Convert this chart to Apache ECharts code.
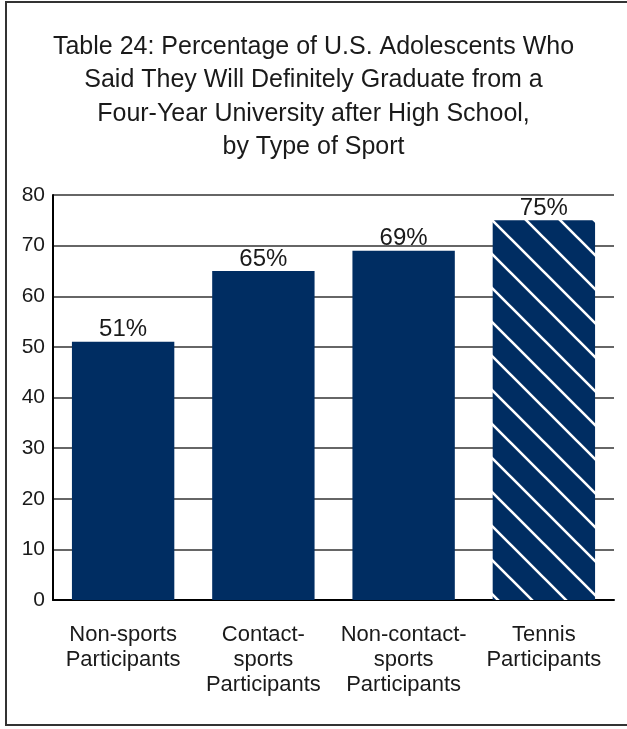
<!DOCTYPE html>
<html>
<head>
<meta charset="utf-8">
<script src="https://cdn.jsdelivr.net/npm/echarts@6/dist/echarts.min.js"></script>
<style>
html,body{margin:0;padding:0;background:#fff;}
#frame{position:absolute;left:5px;top:1px;width:640px;height:725px;border:2px solid #333;box-sizing:border-box;}
#chart{position:absolute;left:0;top:0;width:627px;height:729px;}
</style>
</head>
<body>
<div id="frame"></div>
<div id="chart"></div>
<script>
const titleText = "Table 24: Percentage of U.S. Adolescents Who\nSaid They Will Definitely Graduate from a\nFour-Year University after High School,\nby Type of Sport";
const categories = ["Non-sports\nParticipants", "Contact-\nsports\nParticipants", "Non-contact-\nsports\nParticipants", "Tennis\nParticipants"];
const values = [51, 65, 69, 75];
const hatched = [false, false, false, true];
const yTicks = [0, 10, 20, 30, 40, 50, 60, 70, 80];

const navy = '#002D62';
const font = 'Liberation Sans, Arial, Helvetica, sans-serif';
function makeHatch() {
  const s = 34;
  const c = document.createElement('canvas');
  c.width = s; c.height = s;
  const ctx = c.getContext('2d');
  ctx.fillStyle = navy;
  ctx.fillRect(0, 0, s, s);
  ctx.strokeStyle = '#fff';
  ctx.lineWidth = 2.6;
  ctx.beginPath();
  ctx.moveTo(-4, -4); ctx.lineTo(s + 4, s + 4);
  ctx.moveTo(-4 - s, -4); ctx.lineTo(4, s + 4);
  ctx.moveTo(s - 4, -4); ctx.lineTo(2 * s + 4, s + 4);
  ctx.stroke();
  return c;
}
const hatch = makeHatch();

const chart = echarts.init(document.getElementById('chart'), null, {renderer: 'canvas'});
chart.setOption({
  animation: false,
  title: {
    text: titleText,
    left: 'center',
    top: 25,
    textStyle: {fontFamily: font, fontSize: 25, fontWeight: 'normal', color: '#1a1a1a', lineHeight: 33.5}
  },
  grid: {left: 53, right: 13, top: 195, bottom: 129},
  xAxis: {
    type: 'category',
    data: categories,
    axisLine: {lineStyle: {color: '#000', width: 2}},
    axisTick: {show: false},
    axisLabel: {fontFamily: font, fontSize: 22, color: '#1a1a1a', lineHeight: 25, margin: 22, interval: 0, verticalAlign: 'top'}
  },
  yAxis: {
    type: 'value',
    min: yTicks[0],
    max: yTicks[yTicks.length - 1],
    interval: 10,
    axisLine: {show: true, lineStyle: {color: '#000', width: 2}},
    axisTick: {show: false},
    axisLabel: {fontFamily: font, fontSize: 21, color: '#1a1a1a', margin: 8, padding: [0, 0, 3, 0]},
    splitLine: {lineStyle: {color: '#333', width: 1.5}}
  },
  series: [{
    type: 'bar',
    barCategoryGap: '27%',
    data: values.map((v, i) => ({
      value: v,
      itemStyle: {color: hatched[i] ? {image: hatch, repeat: 'repeat'} : navy}
    })),
    label: {
      show: true,
      position: 'top',
      distance: 0,
      formatter: '{c}%',
      fontFamily: font,
      fontSize: 24,
      color: '#1a1a1a'
    }
  }]
});
</script>
</body>
</html>
